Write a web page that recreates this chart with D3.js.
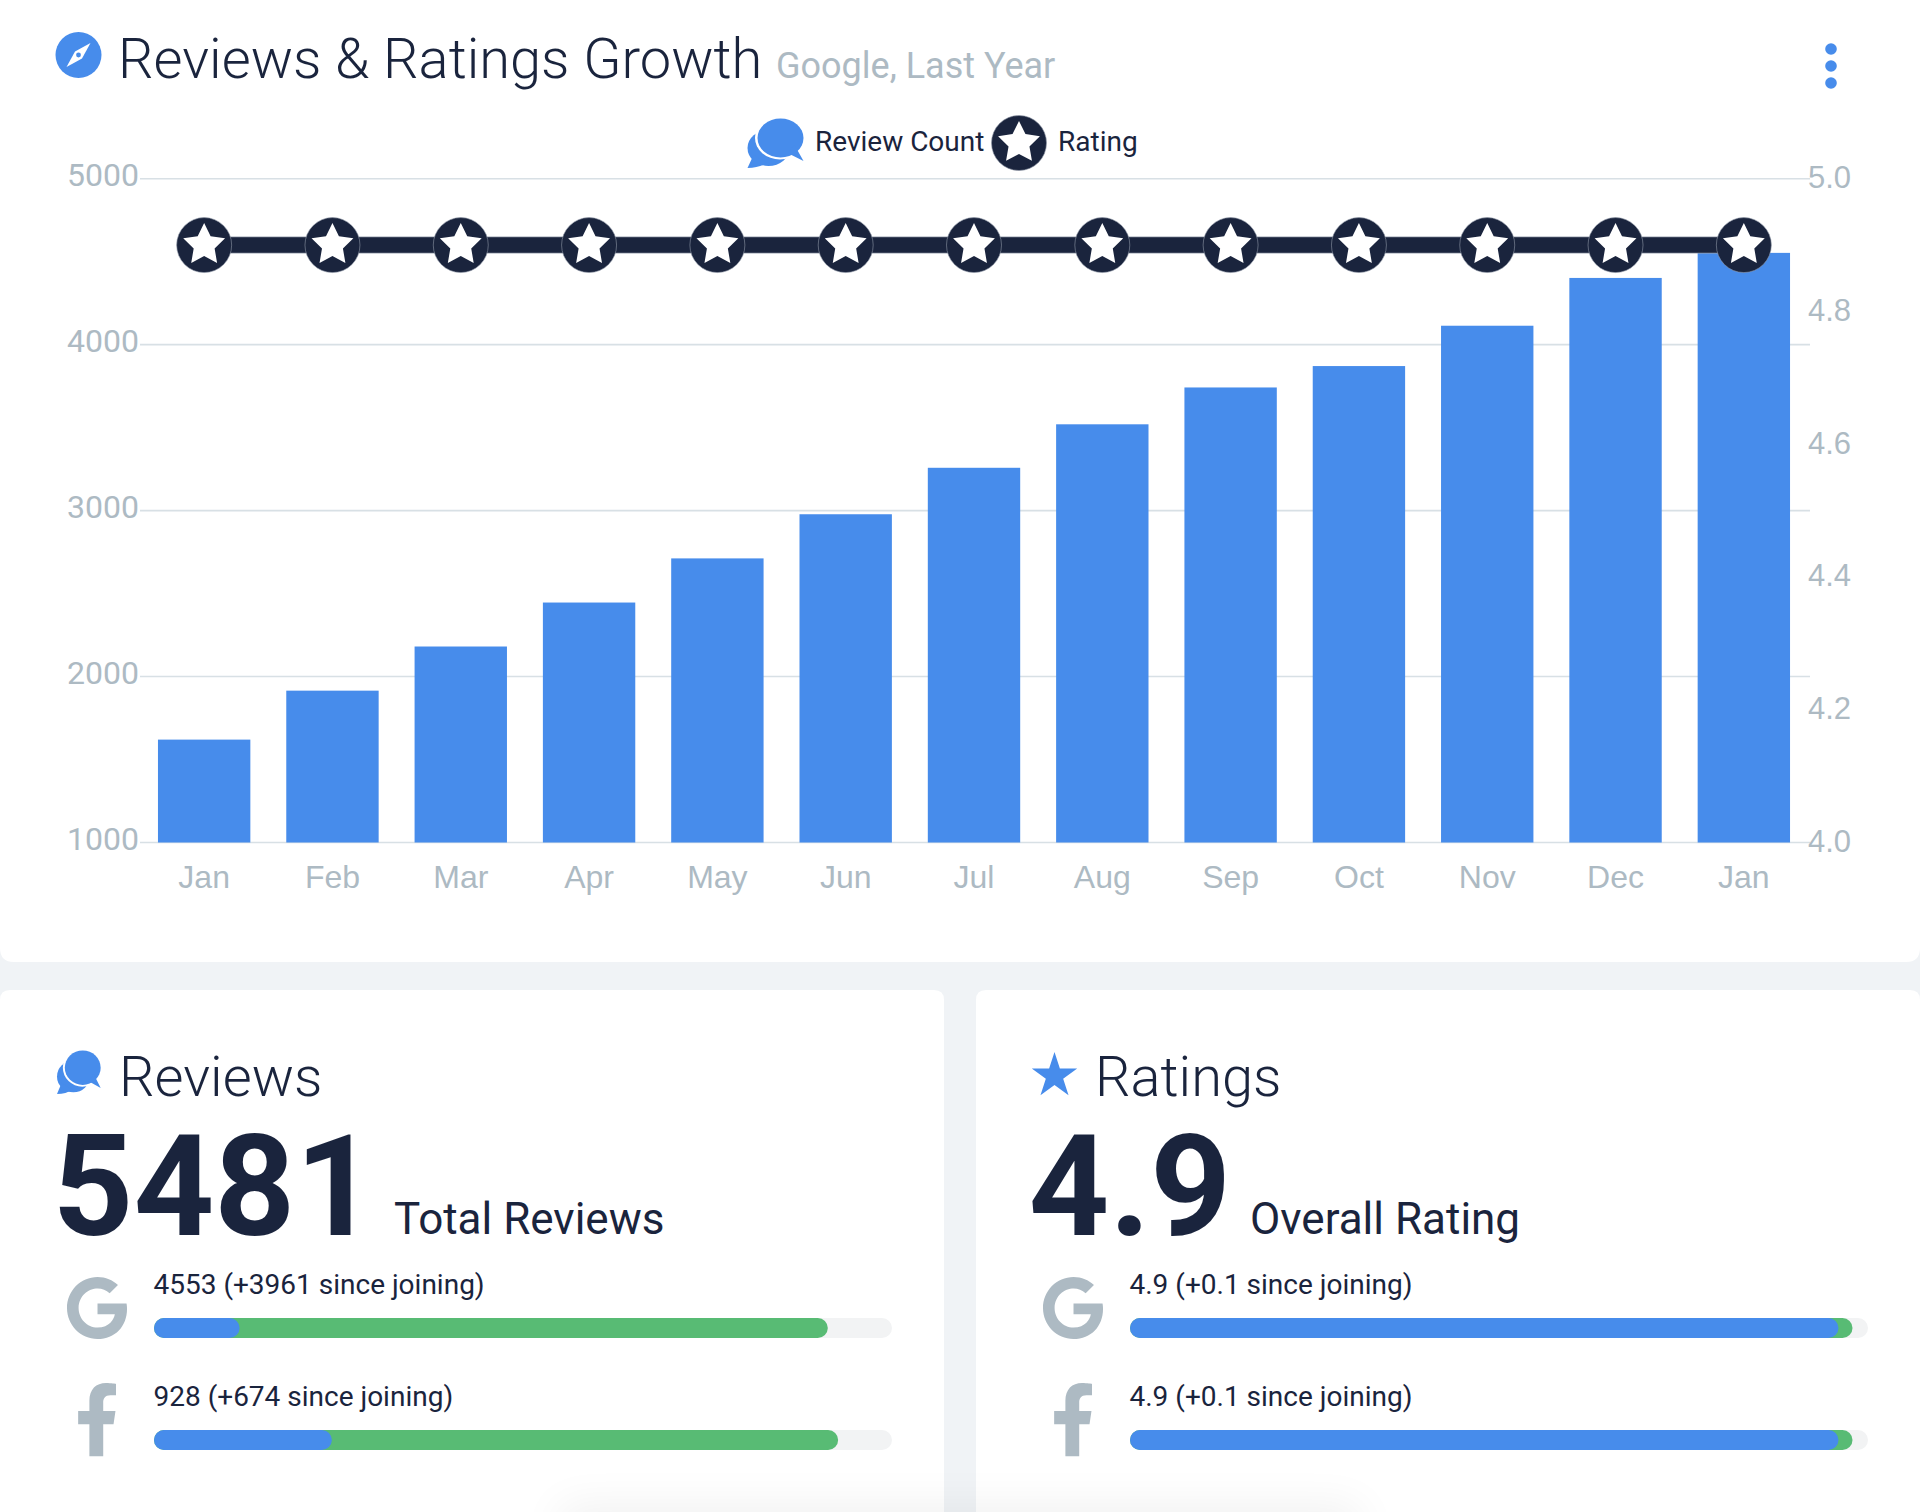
<!DOCTYPE html>
<html>
<head>
<meta charset="utf-8">
<script src="https://cdnjs.cloudflare.com/ajax/libs/d3/7.8.5/d3.min.js"></script>
<style>
  body { margin: 0; background: #f0f3f6; }
  svg { display: block; }
  text { font-family: Roboto, sans-serif; }
  .axis path, .axis line { display: none; }
  .axis text { fill: #adbac3; font-size: 32px; }
  .axisHelv text { font-family: "Liberation Sans", sans-serif; font-size: 31px; }
  .axisMonths text { font-size: 32px; }
</style>
</head>
<body>
<div id="chart"></div>
<script>
var months = ["Jan", "Feb", "Mar", "Apr", "May", "Jun", "Jul", "Aug", "Sep", "Oct", "Nov", "Dec", "Jan"];
var reviewCounts = [1620, 1915, 2181, 2446, 2712, 2978, 3258, 3520, 3742, 3871, 4114, 4402, 4553];
var ratings = [4.9, 4.9, 4.9, 4.9, 4.9, 4.9, 4.9, 4.9, 4.9, 4.9, 4.9, 4.9, 4.9];
var countTicks = [1000, 2000, 3000, 4000, 5000];
var ratingTicks = [4.0, 4.2, 4.4, 4.6, 4.8, 5.0];

// progress bars, as share of the track
var sourceRows = ["4553 (+3961 since joining)", "928 (+674 since joining)"];
var sourceStart = [0.116, 0.241];
var sourceNow = [0.913, 0.927];
var ratingRows = ["4.9 (+0.1 since joining)", "4.9 (+0.1 since joining)"];
var ratingStart = [0.96, 0.96];
var ratingNow = [0.979, 0.979];

var blue = "#478ceb";
var green = "#58bb74";
var navy = "#1a243d";
var grey = "#adbac3";

var wide = 1920;
var high = 1512;

var svg = d3.select("#chart").append("svg").attr("width", wide).attr("height", high);

// cards
function roundedBottom(x, y, w, h, r) {
  return "M" + x + "," + y + "h" + w + "v" + (h - r) + "q0," + r + " " + (-r) + "," + r + "h" + (-(w - 2 * r)) + "q" + (-r) + ",0 " + (-r) + "," + (-r) + "z";
}
function roundedTop(x, y, w, h, r) {
  return "M" + x + "," + (y + h) + "v" + (-(h - r)) + "q0," + (-r) + " " + r + "," + (-r) + "h" + (w - 2 * r) + "q" + r + ",0 " + r + "," + r + "v" + (h - r) + "z";
}
svg.append("path").attr("d", roundedBottom(0, 0, wide, 962, 14)).attr("fill", "#fff");
svg.append("path").attr("d", roundedTop(0, 990, 944, 522, 10)).attr("fill", "#fff");
svg.append("path").attr("d", roundedTop(976, 990, 944, 522, 10)).attr("fill", "#fff");

// faint shadow of something below the fold, over the lower cards
var defs = svg.append("defs");
defs.append("filter").attr("id", "soft").attr("x", "-20%").attr("y", "-100%").attr("width", "140%").attr("height", "300%")
  .append("feGaussianBlur").attr("stdDeviation", 22);
svg.append("rect").attr("x", 560).attr("y", 1505).attr("width", 800).attr("height", 80)
  .attr("fill", "#000").attr("opacity", 0.055).attr("filter", "url(#soft)");

// icons
function bubble(g) {
  g.append("ellipse").attr("cx", 21).attr("cy", 29).attr("rx", 21).attr("ry", 18).attr("fill", blue);
  g.append("path").attr("d", "M6,36L0,49C8,49 14,47 20,44z").attr("fill", blue);
  g.append("ellipse").attr("cx", 32.5).attr("cy", 19).attr("rx", 25).attr("ry", 21.5).attr("fill", "#fff");
  g.append("ellipse").attr("cx", 33).attr("cy", 19).attr("rx", 23).attr("ry", 19.5).attr("fill", blue);
  g.append("path").attr("d", "M40,34L56,42L47,26z").attr("fill", blue);
}
function makeStar(r) {
  var pts = d3.range(10).map(function(i) {
    return [i * Math.PI / 5, i % 2 ? r * 0.5 : r];
  });
  return d3.lineRadial().curve(d3.curveLinearClosed)(pts);
}
function starMark(g, r) {
  g.append("circle").attr("r", r).attr("fill", navy).attr("stroke", "#8f97a6").attr("stroke-width", 0.6);
  g.append("path").attr("d", makeStar(r * 0.8)).attr("fill", "#fff");
}

var compass = svg.append("g").attr("transform", "translate(78.5,55)");
compass.append("circle").attr("r", 23).attr("fill", blue);
compass.append("path").attr("d", "M12,-12L3.5,3.5L-12,12L-3.5,-3.5z").attr("fill", "#fff");
compass.append("circle").attr("r", 2.4).attr("fill", blue);

// header
svg.append("text").attr("x", 118).attr("y", 78).attr("font-size", 56).attr("font-weight", 300).attr("fill", navy)
  .text("Reviews & Ratings Growth");
svg.append("text").attr("x", 776).attr("y", 78).attr("font-size", 36).attr("fill", grey)
  .text("Google, Last Year");

svg.selectAll(".menuDot").data([49, 66, 83]).enter().append("circle").attr("class", "menuDot")
  .attr("cx", 1831).attr("cy", function(d) { return d; }).attr("r", 5.8).attr("fill", blue);

// legend
svg.append("g").attr("transform", "translate(747.5,119)").call(bubble);
svg.append("text").attr("x", 815).attr("y", 151).attr("font-size", 28).attr("fill", navy).text("Review Count");
svg.append("g").attr("transform", "translate(1019,143)").call(starMark, 27.5);
svg.append("text").attr("x", 1058).attr("y", 151).attr("font-size", 28).attr("fill", navy).text("Rating");

// scales
var xScale = d3.scaleBand().domain(d3.range(months.length)).range([140, 1808]).paddingInner(0.28).paddingOuter(0.14);
var yScale = d3.scaleLinear().domain([1000, 5000]).range([842.5, 178.7]);
var rateScale = d3.scaleLinear().domain([4, 5]).range([842.5, 178.7]);

// gridlines
svg.selectAll(".grid").data(countTicks).enter().append("line").attr("class", "grid")
  .attr("x1", 140).attr("x2", 1810)
  .attr("y1", function(d) { return yScale(d); }).attr("y2", function(d) { return yScale(d); })
  .attr("stroke", "#d8e0e5").attr("stroke-width", 1.6);

// bars
svg.selectAll(".bar").data(reviewCounts).enter().append("rect").attr("class", "bar")
  .attr("x", function(d, i) { return xScale(i); })
  .attr("y", function(d) { return yScale(d); })
  .attr("width", xScale.bandwidth())
  .attr("height", function(d) { return yScale(1000) - yScale(d); })
  .attr("fill", blue);

// axes
svg.append("g").attr("class", "axis")
  .attr("transform", "translate(140,-3)")
  .call(d3.axisLeft(yScale).tickValues(countTicks).tickSize(0).tickPadding(1).tickFormat(d3.format("d")));
svg.append("g").attr("class", "axis axisHelv")
  .attr("transform", "translate(1808,-1)")
  .call(d3.axisRight(rateScale).tickValues(ratingTicks).tickSize(0).tickPadding(0).tickFormat(d3.format(".1f")));
svg.append("g").attr("class", "axis axisHelv axisMonths")
  .attr("transform", "translate(0,862)")
  .call(d3.axisBottom(xScale).tickSize(0).tickFormat(function(i) { return months[i]; }));

// rating line
var ratingLine = d3.line()
  .x(function(d, i) { return xScale(i) + xScale.bandwidth() / 2; })
  .y(function(d) { return rateScale(d); });
svg.append("path").datum(ratings).attr("d", ratingLine).attr("fill", "none").attr("stroke", "#9aa1af").attr("stroke-width", 17);
svg.append("path").datum(ratings).attr("d", ratingLine).attr("fill", "none").attr("stroke", navy).attr("stroke-width", 15.5);
svg.selectAll(".mark").data(ratings).enter().append("g").attr("class", "mark")
  .attr("transform", function(d, i) { return "translate(" + (xScale(i) + xScale.bandwidth() / 2) + "," + rateScale(d) + ")"; })
  .each(function() { starMark(d3.select(this), 27.5); });

// lower panels
var googlePath = "M488 261.8C488 403.3 391.1 504 248 504 110.8 504 0 393.2 0 256S110.8 8 248 8c66.8 0 123 24.5 166.3 64.9l-67.5 64.9C258.5 52.6 94.3 116.6 94.3 256c0 86.5 69.1 156.6 153.7 156.6 98.2 0 135-70.4 140.8-106.9H248v-85.3h236.1c2.3 12.7 3.9 24.9 3.9 41.4z";
var facebookPath = "M279.14 288l14.22-92.66h-88.91v-60.13c0-25.35 12.42-50.06 52.24-50.06h40.42V6.26S260.43 0 225.36 0c-73.22 0-121.08 44.38-121.08 124.72v70.62H22.89V288h81.39v224h100.17V288z";

var barScale = d3.scaleLinear().domain([0, 1]).range([0, 738]);

function panel(dx, title, big, caption, captionX, rows, starts, nows) {
  var g = svg.append("g").attr("transform", "translate(" + dx + ",0)");
  g.append("text").attr("x", 119).attr("y", 1095.5).attr("font-size", 56).attr("font-weight", 300).attr("fill", navy).text(title);
  g.append("text").attr("x", 52.5).attr("y", 1235).attr("font-size", 141).attr("font-weight", 700).attr("fill", navy).text(big);
  g.append("text").attr("x", captionX).attr("y", 1234).attr("font-size", 44).attr("fill", navy).text(caption);

  var textY = [1294, 1406];
  var barY = [1318, 1430];
  rows.forEach(function(row, i) {
    g.append("text").attr("x", 153.5).attr("y", textY[i]).attr("font-size", 28).attr("fill", navy).text(row);
    g.append("rect").attr("x", 154).attr("y", barY[i]).attr("width", barScale(1)).attr("height", 20).attr("rx", 10).attr("fill", "#f2f3f4");
    g.append("rect").attr("x", 154).attr("y", barY[i]).attr("width", barScale(nows[i])).attr("height", 20).attr("rx", 10).attr("fill", green);
    g.append("rect").attr("x", 154).attr("y", barY[i]).attr("width", barScale(starts[i])).attr("height", 20).attr("rx", 10).attr("fill", blue);
  });
  g.append("path").attr("d", googlePath).attr("transform", "translate(67,1276) scale(0.123,0.125)").attr("fill", grey);
  g.append("path").attr("d", facebookPath).attr("transform", "translate(75,1383) scale(0.138,0.143)").attr("fill", grey);
  return g;
}
panel(0, "Reviews", "5481", "Total Reviews", 394, sourceRows, sourceStart, sourceNow);
panel(976, "Ratings", "4.9", "Overall Rating", 274, ratingRows, ratingStart, ratingNow);

svg.append("g").attr("transform", "translate(57,1051) scale(0.78,0.88)").call(bubble);
svg.append("path").attr("d", d3.symbol().type(d3.symbolStar).size(640)()).attr("transform", "translate(1054.5,1076)").attr("fill", blue);
</script>
</body>
</html>
